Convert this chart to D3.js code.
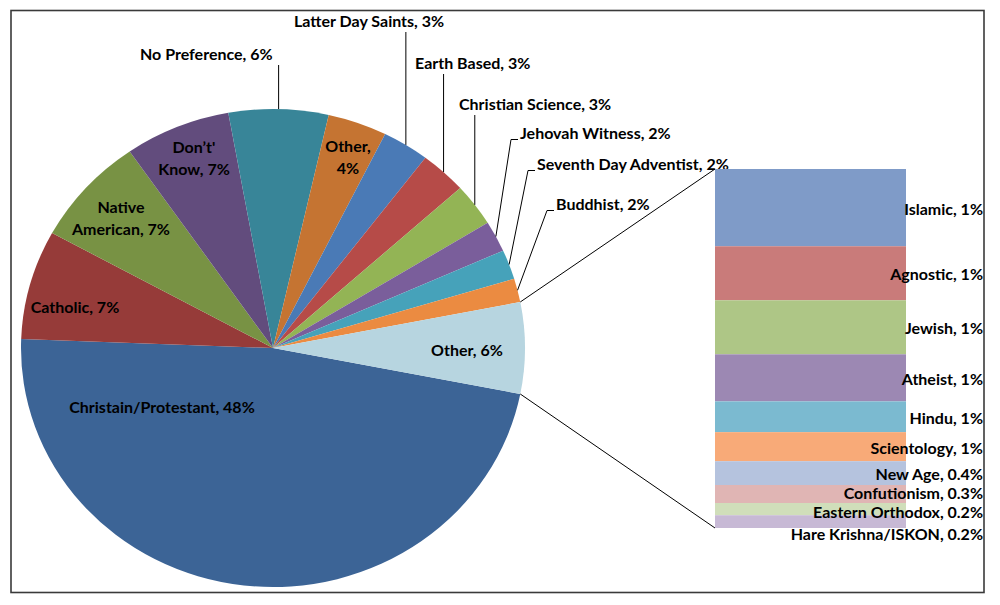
<!DOCTYPE html>
<html>
<head>
<meta charset="utf-8">
<script src="https://cdn.jsdelivr.net/npm/d3@7"></script>
<style>
  html, body { margin: 0; padding: 0; background: #fff; }
  svg text { font-family: Lato, "Open Sans", sans-serif; font-weight: bold; fill: #000; }
</style>
</head>
<body>
<svg id="chart" width="1000" height="605"></svg>
<script>
// ---------- data ----------
const pieNames = ["Christain/Protestant", "Catholic", "Native American", "Don’t' Know", "No Preference",
  "Other", "Latter Day Saints", "Earth Based", "Christian Science", "Jehovah Witness",
  "Seventh Day Adventist", "Buddhist", "Other"];
const pieValues = [47.6, 7.4, 7.4, 6.8, 6.4, 3.8, 3.0, 3.0, 2.9, 2.1, 2.0, 1.6];   // last slice = sum of bar
const pieColors = ["#3C6496", "#963B39", "#789244", "#624C7D", "#388598", "#C57432", "#4A7AB6",
  "#B64B48", "#93B455", "#7A5E9B", "#46A2BA", "#EB8B41", "#B7D5E0"];

const barNames = ["Islamic", "Agnostic", "Jewish", "Atheist", "Hindu", "Scientology", "New Age",
  "Confutionism", "Eastern Orthodox", "Hare Krishna/ISKON"];
const barValues = [1.33, 0.93, 0.93, 0.81, 0.53, 0.50, 0.41, 0.31, 0.21, 0.22];
const barColors = ["#7F9BC8", "#C97B7A", "#AEC686", "#9C88B3", "#7BBAD0", "#F8AA78", "#B5C3DE",
  "#E0B5B4", "#D0DEBA", "#C7B9D5"];

// ---------- layout ----------
const W = 1000, H = 605;
const cx = 273, cy = 348, rx = 252, ry = 239;
const bar = { x0: 715, x1: 906, y0: 169, y1: 528 };
const fontSize = 16;

const svg = d3.select("#chart");

// frame
svg.append("rect").attr("x", 11).attr("y", 10.5).attr("width", 973).attr("height", 582)
  .attr("fill", "#fff").attr("stroke", "#3a3a3a").attr("stroke-width", 1.6);

const otherVal = d3.sum(barValues);
const allVals = pieValues.concat([otherVal]);
const total = d3.sum(allVals);
const otherAngle = 2 * Math.PI * otherVal / total;
const start = Math.PI / 2 + otherAngle / 2;

const pieData = pieNames.map((n, i) => ({ name: n, value: allVals[i], color: pieColors[i], idx: i }));
const arcs = d3.pie().value(d => d.value).sort(null)
  .startAngle(start).endAngle(start + 2 * Math.PI)(pieData);

const arc = d3.arc().innerRadius(0).outerRadius(ry);
const pieG = svg.append("g").attr("transform", `translate(${cx},${cy}) scale(${rx / ry},1)`);
pieG.selectAll("path").data(arcs).join("path")
  .attr("d", arc).attr("fill", d => d.data.color);

// point on ellipse edge for d3 angle a
function edge(a) { return [cx + rx * Math.sin(a), cy - ry * Math.cos(a)]; }
const pct = v => Math.round(v / total * 100) + "%";

// inside labels
const inside = {
  0: { x: 162, y: 407, lines: d => [d.data.name + ", " + pct(d.value)] },
  1: { x: 75, y: 307, lines: d => [d.data.name + ", " + pct(d.value)] },
  2: { x: 121, y: 207, lines: d => ["Native", "American, " + pct(d.value)] },
  3: { x: 194, y: 147, lines: d => ["Don’t'", "Know, " + pct(d.value)] },
  5: { x: 348, y: 146, lines: d => ["Other,", pct(d.value)] },
  12: { x: 467, y: 350, lines: d => [d.data.name + ", " + pct(d.value)] }
};
arcs.forEach((d, i) => {
  const L = inside[i];
  if (!L) return;
  const t = svg.append("text").attr("text-anchor", "middle").attr("font-size", fontSize)
    .attr("x", L.x).attr("y", L.y);
  L.lines(d).forEach((s, k) => {
    t.append("tspan").attr("x", L.x).attr("dy", k === 0 ? "0.35em" : "1.38em").text(s);
  });
});

// outside labels with leader lines
const outside = {
  4: { x: 140, y: 54, type: "v" },
  6: { x: 294, y: 21, type: "v" },
  7: { x: 415, y: 63, type: "v" },
  8: { x: 459, y: 104, type: "v" },
  9: { x: 520, y: 133, type: "d" },
  10: { x: 537, y: 164, type: "d" },
  11: { x: 556, y: 204, type: "d" }
};
const lineG = svg.append("g").attr("fill", "none").attr("stroke", "#000").attr("stroke-width", 1);
arcs.forEach((d, i) => {
  const L = outside[i];
  if (!L) return;
  const mid = (d.startAngle + d.endAngle) / 2;
  const p = edge(mid);
  if (L.type === "v") {
    lineG.append("path").attr("d", d3.line()([[p[0], p[1]], [p[0], L.y + 11]]));
  } else {
    lineG.append("path").attr("d", d3.line()([[p[0], p[1]], [L.x - 9, L.y + 6.5], [L.x - 2, L.y + 6.5]]));
  }
  svg.append("text").attr("x", L.x).attr("y", L.y).attr("dy", "0.35em")
    .attr("font-size", fontSize).text(d.data.name + ", " + pct(d.value));
});

// stacked bar (bar of pie)
const yScale = d3.scaleLinear().domain([0, otherVal]).range([bar.y0, bar.y1]);
let cum = 0;
const barData = barNames.map((n, i) => {
  const o = { name: n, value: barValues[i], color: barColors[i], a: cum, b: cum + barValues[i] };
  cum += barValues[i];
  return o;
});
svg.append("g").selectAll("rect").data(barData).join("rect")
  .attr("x", bar.x0).attr("width", bar.x1 - bar.x0)
  .attr("y", d => yScale(d.a)).attr("height", d => yScale(d.b) - yScale(d.a))
  .attr("fill", d => d.color);

// connector lines
const otherArc = arcs[arcs.length - 1];
const pTop = edge(otherArc.startAngle), pBot = edge(otherArc.endAngle);
lineG.append("path").attr("d", d3.line()([pTop, [bar.x0, bar.y0]]));
lineG.append("path").attr("d", d3.line()([[pBot[0], pBot[1]], [bar.x0, bar.y1]]));

// bar labels (small label-collision nudges, as the chart tool moved them)
const fmt = v => v >= 0.5 ? Math.round(v) + "%" : v.toFixed(1) + "%";
const nudge = { "Confutionism": -2.5, "Eastern Orthodox": 1.5, "Hare Krishna/ISKON": 11 };
svg.append("g").selectAll("text").data(barData).join("text")
  .attr("x", 983).attr("text-anchor", "end").attr("font-size", fontSize)
  .attr("y", d => (yScale(d.a) + yScale(d.b)) / 2 + 1.5 + (nudge[d.name] || 0))
  .attr("dy", "0.35em")
  .text(d => d.name + ", " + fmt(d.value));
</script>
</body>
</html>
